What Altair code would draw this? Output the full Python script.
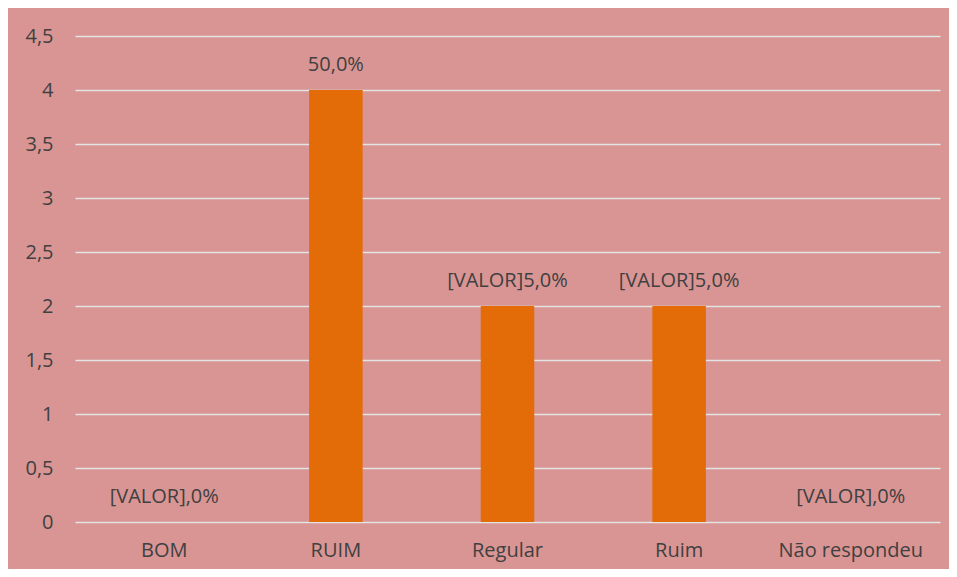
import altair as alt
import pandas as pd

categories = ["BOM", "RUIM", "Regular", "Ruim", "Não respondeu"]
values = [0, 4, 2, 2, 0]
labels = ["[VALOR],0%", "50,0%", "[VALOR]5,0%", "[VALOR]5,0%", "[VALOR],0%"]

df = pd.DataFrame({"cat": categories, "val": values, "lab": labels})

FONT = "Open Sans"
TXT = "#404040"
FS = 20

x = alt.X("cat:N", sort=categories, title=None,
          scale=alt.Scale(paddingInner=0.688, paddingOuter=0.364),
          axis=alt.Axis(labelAngle=0, labelFont=FONT, labelFontSize=FS, labelColor=TXT,
                        labelPadding=18, ticks=False, domain=False, grid=False))
y = alt.Y("val:Q", title=None,
          scale=alt.Scale(domain=[0, 4.5], nice=False),
          axis=alt.Axis(values=[0, 0.5, 1, 1.5, 2, 2.5, 3, 3.5, 4, 4.5],
                        labelExpr="replace(toString(datum.value), '.', ',')",
                        labelFont=FONT, labelFontSize=FS, labelColor=TXT,
                        labelPadding=22, ticks=False, domain=False,
                        grid=True, gridColor="#E4E4E4", gridWidth=1.5))

bars = alt.Chart(df).mark_bar(color="#E36C09").encode(x=x, y=y)
text = alt.Chart(df).mark_text(font=FONT, fontSize=FS, color=TXT, baseline="alphabetic",
                               dy=-19).encode(x=x, y=y, text="lab:N")

chart = (bars + text).properties(
    width=865, height=486,
    background="#D99594",
    autosize=alt.AutoSizeParams(type="none"),
    padding={"left": 67, "top": 28, "right": 9, "bottom": 47},
).configure_view(stroke=None)

chart.save("out.html", embed_options={"renderer": "svg", "actions": False})
